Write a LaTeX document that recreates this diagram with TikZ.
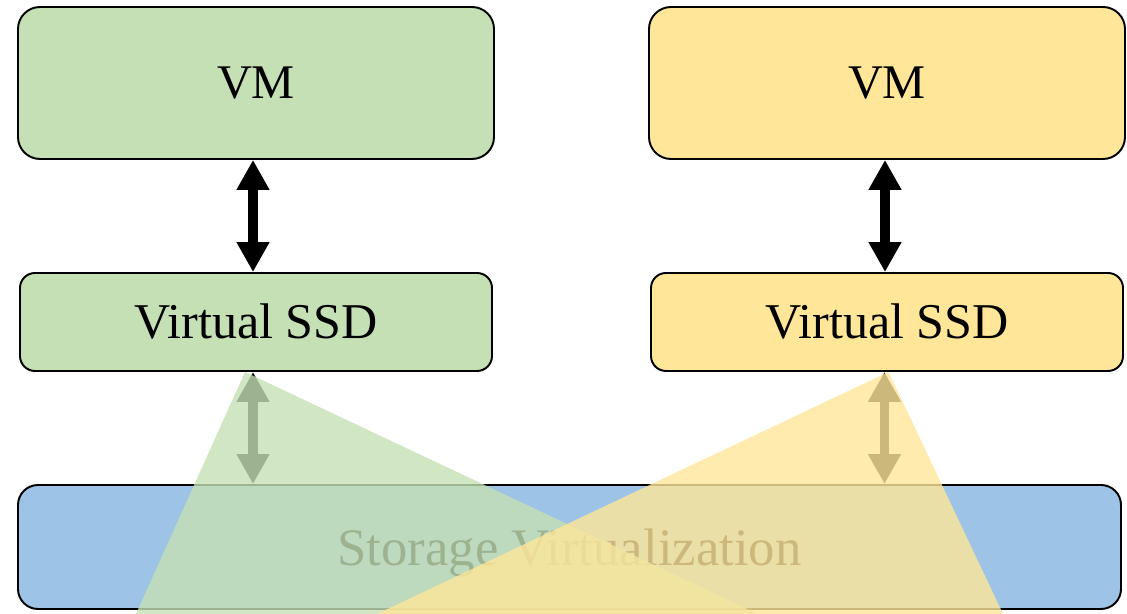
\documentclass[tikz,border=0pt]{standalone}
\usepackage{fontspec}
\setmainfont{Liberation Serif}
\usepackage{tikz}
\usetikzlibrary{arrows.meta,positioning,calc}
\definecolor{VmGreen}{HTML}{C5E0B4}
\definecolor{VmYellow}{HTML}{FFE699}
\definecolor{StoreBlue}{HTML}{9DC3E6}

\begin{document}
\begin{tikzpicture}[
  box/.style={draw=black,line width=1.1pt,inner sep=0pt},
  vmbox/.style={box,rounded corners=.44cm,minimum width=9.52cm,minimum height=3.04cm,
    font=\fontsize{27.5}{30}\selectfont},
  ssdbox/.style={box,rounded corners=.3cm,minimum width=9.44cm,minimum height=1.96cm,
    font=\fontsize{28.5}{31}\selectfont},
  fat/.style={line width=5.4pt,
    {Triangle[width=17.6pt,length=17pt]}-{Triangle[width=17.6pt,length=17pt]}},
  cone/.style={opacity=.8}]
  \useasboundingbox (0,0) rectangle (22.54,12.28);
  \node[vmbox,fill=VmGreen]  (vmL)  at (5.12,10.62) {VM};
  \node[vmbox,fill=VmYellow] (vmR)  at (17.74,10.62) {VM};
  \node[ssdbox,fill=VmGreen]  (ssdL) at (5.12,5.84) {Virtual SSD};
  \node[ssdbox,fill=VmYellow] (ssdR) at (17.74,5.84) {Virtual SSD};
  \node[box,fill=StoreBlue,rounded corners=.4cm,minimum width=22.06cm,minimum height=2.48cm,
    text depth=0pt,font=\fontsize{30}{33}\selectfont] (store) at (11.39,1.34)
    {Storage Virtualization};
  % links between the layers
  \draw[fat] ($(vmL.south)+(-.06,0)$) -- ($(ssdL.north)+(-.06,0)$);
  \draw[fat] ($(vmR.south)+(-.04,0)$) -- ($(ssdR.north)+(-.04,0)$);
  \draw[fat] ($(ssdL.south)+(-.06,0)$) -- ($(ssdL.south |- store.north)+(-.06,0)$);
  \draw[fat] ($(ssdR.south)+(-.05,0)$) -- ($(ssdR.south |- store.north)+(-.05,0)$);
  % mapping cones
  \fill[VmGreen,cone] ($(ssdL.south)+(-.22,0)$) -- (2.72,0) -- (15.16,0) -- cycle;
  \fill[VmYellow,cone] ($(ssdR.south)+(.03,0)$) -- (7.54,0) -- (20.06,0) -- cycle;
\end{tikzpicture}
\end{document}
